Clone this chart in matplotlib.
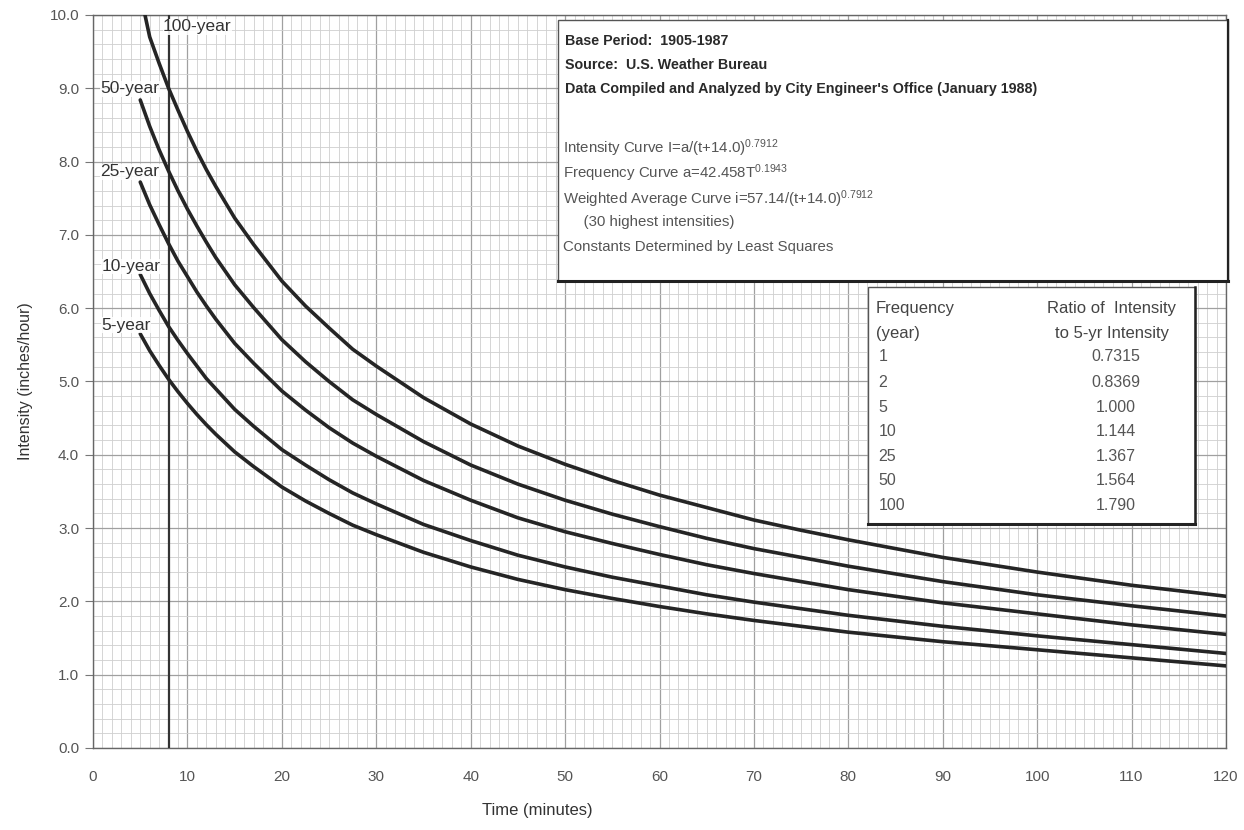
import matplotlib
matplotlib.use("Agg")
import matplotlib.pyplot as plt
from matplotlib.patches import Rectangle
from matplotlib.ticker import MultipleLocator

plt.rcParams['font.family'] = ['Liberation Sans', 'DejaVu Sans']
plt.rcParams['mathtext.fontset'] = 'custom'
plt.rcParams['mathtext.rm'] = 'Liberation Sans'
plt.rcParams['mathtext.default'] = 'regular'

# ---- data ----
t_vals = [5, 6, 7, 8, 9, 10, 11, 12, 13, 15, 17, 20, 22.5, 25, 27.5, 30, 35, 40, 45, 50,
          55, 60, 65, 70, 75, 80, 90, 100, 110, 120]
i_5yr = [5.65, 5.42, 5.22, 5.03, 4.86, 4.70, 4.55, 4.41, 4.28, 4.04, 3.84, 3.56, 3.37, 3.20, 3.04,
         2.91, 2.67, 2.47, 2.30, 2.16, 2.04, 1.93, 1.83, 1.74, 1.66, 1.58, 1.45, 1.34, 1.23, 1.12]
i_10yr = [6.46, 6.20, 5.97, 5.75, 5.56, 5.38, 5.21, 5.04, 4.90, 4.62, 4.39, 4.07, 3.86, 3.66, 3.48,
          3.33, 3.05, 2.83, 2.63, 2.47, 2.33, 2.21, 2.09, 1.99, 1.90, 1.81, 1.66, 1.53, 1.41, 1.29]
i_25yr = [7.72, 7.41, 7.14, 6.88, 6.64, 6.43, 6.22, 6.03, 5.85, 5.52, 5.25, 4.87, 4.61, 4.37, 4.16,
          3.98, 3.65, 3.38, 3.14, 2.95, 2.79, 2.64, 2.50, 2.38, 2.27, 2.16, 1.98, 1.83, 1.68, 1.55]
i_50yr = [8.84, 8.48, 8.16, 7.87, 7.60, 7.35, 7.12, 6.90, 6.69, 6.32, 6.01, 5.57, 5.27, 5.00, 4.75,
          4.55, 4.18, 3.86, 3.60, 3.38, 3.19, 3.02, 2.86, 2.72, 2.60, 2.48, 2.27, 2.09, 1.94, 1.80]
t_100 = [5.5, 6, 7, 8, 9, 10, 11, 12, 13, 15, 17, 20, 22.5, 25, 27.5, 30, 35, 40, 45, 50,
         55, 60, 65, 70, 75, 80, 90, 100, 110, 120]
i_100yr = [10.0, 9.70, 9.34, 9.00, 8.70, 8.41, 8.14, 7.89, 7.66, 7.23, 6.87, 6.37, 6.03, 5.73, 5.44,
           5.21, 4.78, 4.42, 4.12, 3.87, 3.65, 3.45, 3.28, 3.11, 2.97, 2.84, 2.60, 2.40, 2.22, 2.07]

curve_labels = ["5-year", "10-year", "25-year", "50-year", "100-year"]
label_pos = [(0.9, 5.77), (0.9, 6.57), (0.8, 7.86), (0.8, 8.99), (7.4, 9.84)]

ref_line_t = 8

info_bold = ["Base Period:  1905-1987",
             "Source:  U.S. Weather Bureau",
             "Data Compiled and Analyzed by City Engineer's Office (January 1988)"]
info_normal = ["Intensity Curve I=a/(t+14.0)$^{0.7912}$",
               "Frequency Curve a=42.458T$^{0.1943}$",
               "Weighted Average Curve i=57.14/(t+14.0)$^{0.7912}$",
               "     (30 highest intensities)",
               "Constants Determined by Least Squares"]

freq_years = ["1", "2", "5", "10", "25", "50", "100"]
ratios = ["0.7315", "0.8369", "1.000", "1.144", "1.367", "1.564", "1.790"]

x_ticks = list(range(0, 121, 10))
y_ticks = [0, 1, 2, 3, 4, 5, 6, 7, 8, 9, 10]

# ---- figure ----
fig = plt.figure(figsize=(12.44, 8.30), dpi=100)
ax = fig.add_axes([0.0748, 0.0988, 0.9107, 0.8832])
ax.set_xlim(0, 120)
ax.set_ylim(0, 10)

ax.xaxis.set_major_locator(MultipleLocator(10))
ax.xaxis.set_minor_locator(MultipleLocator(1))
ax.yaxis.set_major_locator(MultipleLocator(1))
ax.yaxis.set_minor_locator(MultipleLocator(0.2))
ax.grid(which='minor', color='#cfcfcf', lw=0.6)
ax.grid(which='major', color='#a0a0a0', lw=0.9)
ax.set_axisbelow(True)

ax.set_xticks(x_ticks)
ax.set_xticklabels([str(v) for v in x_ticks])
ax.set_yticks(y_ticks)
ax.set_yticklabels([f"{v:.1f}" for v in y_ticks])
ax.tick_params(axis='x', which='both', length=0, pad=16, labelsize=11, labelcolor='#555555')
ax.tick_params(axis='y', which='major', length=6, color='#777777', pad=4, labelsize=11, labelcolor='#555555')
ax.tick_params(axis='y', which='minor', length=0)
for s in ax.spines.values():
    s.set_color('#666666')
    s.set_linewidth(1.0)

ax.set_xlabel("Time (minutes)", fontsize=12, color='#333333', labelpad=16)
ax.xaxis.set_label_coords(0.392, -0.075)
ax.set_ylabel("Intensity (inches/hour)", fontsize=11.5, color='#333333', labelpad=12)

# reference vertical line
ax.axvline(ref_line_t, color='#333333', lw=1.6, zorder=3)

# curves
series = [(t_vals, i_5yr), (t_vals, i_10yr), (t_vals, i_25yr), (t_vals, i_50yr), (t_100, i_100yr)]
for (tt, ii) in series:
    ax.plot(tt, ii, color='#252525', lw=2.6, solid_capstyle='round', solid_joinstyle='round',
            zorder=4, clip_on=True)

for lab, (lx, ly) in zip(curve_labels, label_pos):
    ax.text(lx, ly, lab, fontsize=12.5, color='#333333', ha='left', va='center', zorder=5,
            bbox=dict(facecolor='white', edgecolor='none', pad=0.3, alpha=0.85))

# info box
bx0, bx1, by0, by1 = 49.2, 120.2, 6.37, 9.93
ax.add_patch(Rectangle((bx0, by0), bx1 - bx0, by1 - by0, facecolor='white',
                       edgecolor='#555555', lw=1.0, zorder=6, clip_on=False))
ax.plot([bx0, bx1], [by0, by0], color='#222222', lw=2.2, zorder=7, clip_on=False)
ax.plot([bx1, bx1], [by0, by1], color='#222222', lw=1.6, zorder=7, clip_on=False)
yb = [9.65, 9.32, 8.99]
for txt, yy in zip(info_bold, yb):
    ax.text(bx0 + 0.8, yy, txt, fontsize=10.3, fontweight='bold', color='#2a2a2a',
            ha='left', va='center', zorder=8)
yn = [8.18, 7.84, 7.48, 7.17, 6.84]
for txt, yy in zip(info_normal, yn):
    ax.text(bx0 + 0.6, yy, txt, fontsize=10.8, color='#555555', ha='left', va='center', zorder=8)

# table box
tx0, tx1, ty0, ty1 = 82.1, 116.7, 3.05, 6.29
ax.add_patch(Rectangle((tx0, ty0), tx1 - tx0, ty1 - ty0, facecolor='white',
                       edgecolor='#555555', lw=1.0, zorder=6))
ax.plot([tx0, tx1], [ty0, ty0], color='#222222', lw=2.2, zorder=7)
ax.plot([tx1, tx1], [ty0, ty1], color='#222222', lw=1.8, zorder=7)
ax.text(tx0 + 0.8, 5.99, "Frequency", fontsize=12, color='#444444', ha='left', va='center', zorder=8)
ax.text(tx0 + 0.8, 5.66, "(year)", fontsize=12, color='#444444', ha='left', va='center', zorder=8)
ax.text(107.9, 5.99, "Ratio of  Intensity", fontsize=12, color='#444444', ha='center', va='center', zorder=8)
ax.text(107.9, 5.66, "to 5-yr Intensity", fontsize=12, color='#444444', ha='center', va='center', zorder=8)
row_y = [5.34, 4.99, 4.65, 4.32, 3.98, 3.65, 3.31]
for fy, rv, yy in zip(freq_years, ratios, row_y):
    ax.text(tx0 + 1.1, yy, fy, fontsize=11.5, color='#555555', ha='left', va='center', zorder=8)
    ax.text(108.3, yy, rv, fontsize=11.5, color='#555555', ha='center', va='center', zorder=8)

fig.savefig("out.png", dpi=100, facecolor='white')
